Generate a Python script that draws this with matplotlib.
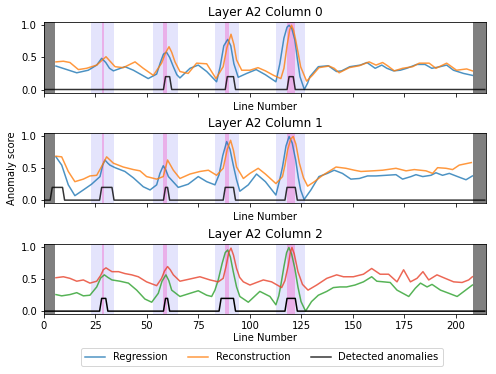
import numpy as np
import matplotlib
matplotlib.use("Agg")
import matplotlib.pyplot as plt

# ---------------- data ----------------
titles = ["Layer A2 Column 0", "Layer A2 Column 1", "Layer A2 Column 2"]

reg0_x = [5.8, 15.9, 21.5, 25.6, 28, 30, 31.8, 33.7, 39.3, 43.4, 50.6, 54.7, 56.5, 58, 59.5, 61, 62.8, 64.5, 66, 70.9, 74.9, 79,
          83.8, 85.5, 87.3, 89.2, 90.7, 92.2, 94.3, 98.4, 103, 107.5, 112.6, 114.5, 116.5, 118, 119, 120.3, 121.8, 123,
          124.3, 126.4, 128, 129.1, 133.2, 138, 142, 144.5, 148.5, 153.6, 156.8, 160.8, 164, 166.5, 169.7, 173, 176.1,
          181, 185, 188.3, 192.3, 195.5, 198.8, 203.7, 208]
reg0_y = [0.365, 0.26, 0.30, 0.38, 0.485, 0.42, 0.33, 0.29, 0.355, 0.30, 0.17, 0.24, 0.42, 0.55, 0.58, 0.50, 0.355, 0.23, 0.18, 0.33, 0.38, 0.28,
          0.12, 0.35, 0.68, 0.78, 0.68, 0.40, 0.19, 0.25, 0.31, 0.23, 0.12, 0.40, 0.80, 0.97, 1.0, 0.95, 0.77, 0.48,
          0.2, 0.0, 0.1, 0.2, 0.355, 0.37, 0.28, 0.29, 0.355, 0.38, 0.42, 0.33, 0.38, 0.33, 0.29, 0.30, 0.33,
          0.39, 0.39, 0.33, 0.355, 0.38, 0.30, 0.25, 0.22]
rec0_x = [5.8, 9.4, 12.6, 16.7, 20.7, 25.6, 30.1, 34.5, 38.5, 44.2, 48.2, 53.1, 57.1, 59, 60.7, 62, 63.6, 66, 70, 74.1, 79,
          83.5, 87, 88.8, 90.8, 92.2, 93.5, 96, 100, 103.9, 107.5, 111.5, 115, 116.5, 118, 119.3, 120.2, 121.2, 122.2,
          123.5, 124.6, 127.5, 130.3, 133.5, 138.4, 140.9, 143.3, 148.2, 153.1, 157.9, 161.2, 164.4, 166.8, 170.1,
          174.1, 179, 182.2, 187, 190.3, 195.5, 200.3, 205.2, 208]
rec0_y = [0.43, 0.44, 0.42, 0.31, 0.33, 0.38, 0.51, 0.355, 0.34, 0.43, 0.33, 0.22, 0.41, 0.57, 0.665, 0.58, 0.43, 0.28, 0.25, 0.41, 0.40,
          0.17, 0.355, 0.65, 0.86, 0.70, 0.46, 0.30, 0.30, 0.34, 0.29, 0.22, 0.17, 0.33, 0.68, 0.93, 1.0, 0.92, 0.77,
          0.55, 0.355, 0.13, 0.22, 0.34, 0.365, 0.33, 0.26, 0.34, 0.37, 0.43, 0.38, 0.42, 0.37, 0.29,
          0.33, 0.355, 0.41, 0.41, 0.33, 0.41, 0.30, 0.32, 0.29]

reg1_x = [5.8, 8.6, 11.8, 15, 19.1, 23.1, 27.2, 28.5, 29.6, 31, 32, 34.5, 39.3, 43.4, 48.2, 51.5, 54.7, 56.3, 57.9, 59.2, 60.4,
          65.2, 70, 74.9, 79, 83, 85, 86.8, 88.7, 90.3, 91.9, 93.5, 95.1, 99.2, 103.2, 107.5, 112.6, 114.3, 115.8, 117.5,
          119, 120.5, 122.2, 123.5, 124.6, 126.3, 129.6, 133.5, 137.6, 140.9, 144.9, 149, 153.1, 157.1, 161.2, 166,
          170.9, 174.1, 178.2, 180.6, 183.9, 187.9, 190.3, 193.5, 196.8, 200.8, 204.9, 208]
reg1_y = [0.68, 0.55, 0.24, 0.07, 0.16, 0.25, 0.37, 0.55, 0.63, 0.58, 0.55, 0.51, 0.45, 0.35, 0.21, 0.16, 0.24, 0.42, 0.54, 0.47, 0.37,
          0.20, 0.25, 0.37, 0.29, 0.24, 0.40, 0.70, 0.92, 0.80, 0.55, 0.32, 0.14, 0.24, 0.41, 0.29, 0.08, 0.30, 0.52, 0.85,
          1.0, 0.9, 0.63, 0.35, 0.16, 0.01, 0.16, 0.37, 0.42, 0.47, 0.42, 0.33, 0.34, 0.38, 0.38, 0.39,
          0.40, 0.33, 0.37, 0.40, 0.37, 0.39, 0.43, 0.39, 0.42, 0.37, 0.32, 0.38]
rec1_x = [5.8, 8.6, 11.8, 15, 19.1, 22.3, 25.6, 28, 30.4, 33.7, 38.5, 43.4, 46.6, 49.8, 54.7, 57.9, 60, 62.8, 66, 70.9, 75.7,
          79.8, 83.8, 87, 89, 90.6, 92, 93.5, 96.8, 100, 104, 107.5, 112.6, 115.8, 117, 118.3, 119.8, 121, 122.3, 124,
          126, 128, 131.3, 135.3, 141.8, 146.6, 150.7, 153.9, 159.6, 164.4, 170.9, 175.8, 179.8, 185.5, 188.7, 191.1,
          195.2, 198.4, 201.6, 207.5]
rec1_y = [0.69, 0.68, 0.45, 0.29, 0.33, 0.38, 0.39, 0.53, 0.68, 0.58, 0.52, 0.48, 0.46, 0.37, 0.33, 0.37, 0.63, 0.47, 0.34, 0.41, 0.45,
          0.47, 0.39, 0.50, 0.80, 0.94, 0.78, 0.52, 0.34, 0.42, 0.50, 0.41, 0.26, 0.37, 0.55, 0.79, 0.96, 1.0, 0.88, 0.58,
          0.35, 0.22, 0.29, 0.39, 0.52, 0.50, 0.47, 0.45, 0.46, 0.47, 0.50, 0.46, 0.48, 0.46, 0.42, 0.51,
          0.50, 0.48, 0.55, 0.59]

reg2_x = [5.8, 8.6, 12.6, 15.9, 19.1, 22.3, 25.6, 27.5, 29.3, 31, 33, 36.9, 41, 45, 49, 52.3, 55.5, 57.3, 59.2, 60.6, 62, 66,
          70.9, 74.9, 79, 81.4, 83, 84.6, 86.5, 88, 89.2, 90.5, 91.9, 93.5, 95.1, 99.2, 104.8, 109.7, 112.6, 114, 115,
          116.5, 117.8, 118.9, 120.2, 121.8, 123.3, 124.8, 127, 129.9, 133.2, 137.3, 140.5, 143.7, 146.9, 151, 155.1,
          159.1, 161.6, 164.9, 168.1, 171.4, 177.1, 180.3, 182.8, 186, 188.4, 192.5, 196.6, 200.6, 203.9, 208]
reg2_y = [0.26, 0.24, 0.26, 0.29, 0.24, 0.25, 0.38, 0.52, 0.57, 0.53, 0.49, 0.47, 0.44, 0.33, 0.19, 0.14, 0.28, 0.47, 0.57, 0.48, 0.33, 0.23,
          0.28, 0.32, 0.25, 0.23, 0.33, 0.49, 0.75, 0.92, 0.96, 0.85, 0.62, 0.38, 0.23, 0.14, 0.31, 0.23, 0.10, 0.24, 0.41,
          0.70, 0.92, 1.0, 0.90, 0.67, 0.38, 0.15, 0.0, 0.15, 0.25, 0.31, 0.37, 0.38, 0.38, 0.41, 0.46,
          0.54, 0.47, 0.46, 0.45, 0.33, 0.23, 0.36, 0.44, 0.38, 0.42, 0.33, 0.28, 0.23, 0.31, 0.41]
rec2_x = [5.8, 9.4, 12.6, 15.9, 19.1, 22.3, 25.6, 27.5, 28.8, 30.1, 31.5, 33, 36.2, 39.3, 42.6, 45.8, 49.8, 54.7, 57.1, 58.5, 60,
          61.3, 62.8, 66, 70.9, 75.7, 80.6, 84.6, 87, 88.5, 89.7, 90.8, 92, 93.5, 95, 96.8, 100, 103.2, 106.5, 110.5,
          115.4, 117, 118.6, 119.6, 120.4, 121.5, 123.3, 125.5, 128.2, 132.4, 137.3, 142.1, 145.4, 150.2, 155.1,
          159.1, 163.2, 167.3, 171.4, 174.6, 177.9, 181.1, 184, 186.8, 190.8, 194.8, 198.9, 203, 206.2, 208]
rec2_y = [0.525, 0.54, 0.515, 0.47, 0.49, 0.44, 0.47, 0.56, 0.65, 0.68, 0.65, 0.62, 0.62, 0.59, 0.57, 0.54, 0.46, 0.40, 0.515, 0.63, 0.70,
          0.65, 0.57, 0.47, 0.505, 0.54, 0.49, 0.46, 0.515, 0.72, 0.92, 0.99, 0.88, 0.67, 0.53, 0.46, 0.41, 0.45, 0.49, 0.46,
          0.37, 0.48, 0.72, 0.92, 1.0, 0.90, 0.62, 0.42, 0.33, 0.41, 0.515, 0.57, 0.54, 0.54, 0.58,
          0.67, 0.58, 0.58, 0.46, 0.65, 0.46, 0.515, 0.62, 0.49, 0.57, 0.515, 0.46, 0.45, 0.49, 0.54]

# detected anomaly ranges (inclusive line indices), level of the step
anom0 = [(59, 61), (89, 92), (119, 121)]
anom1 = [(4, 9), (28, 33), (59, 60), (88, 92), (118, 122)]
anom2 = [(28, 30), (59, 60), (86, 92), (118, 122)]
anom_level = 0.2
n_lines = 215

# true anomaly windows (lavender) and anomaly lines (pink)
windows = [(23, 34), (53, 65), (83, 94.5), (112.5, 126.5)]
true_anoms = [(28, 29), (58, 59.5), (88, 89.7), (118, 122)]
pad_spans = [(0, 5.5), (208.5, 214.6)]

xticks = [0, 25, 50, 75, 100, 125, 150, 175, 200]

# ---------------- plot ----------------
plt.rcParams['font.family'] = ['DejaVu Sans']
fig = plt.figure(figsize=(496 / 72, 374 / 72), dpi=72)

rects = [[0.0887, 0.7521, 0.8911, 0.189],
         [0.0887, 0.4564, 0.8911, 0.1872],
         [0.0887, 0.1596, 0.8911, 0.1872]]

series = [(reg0_x, reg0_y, rec0_x, rec0_y, anom0),
          (reg1_x, reg1_y, rec1_x, rec1_y, anom1),
          (reg2_x, reg2_y, rec2_x, rec2_y, anom2)]

colors = [("#1f77b4", "#ff7f0e"), ("#1f77b4", "#ff7f0e"), ("#2ca02c", "#e8412a")]

axes = []
for i, (r, (rx, ry, cx, cy, anom)) in enumerate(zip(rects, series)):
    ax = fig.add_axes(r)
    axes.append(ax)
    for a, b in windows:
        ax.axvspan(a, b, color="#e4e4fc", lw=0, zorder=0)
    for a, b in true_anoms:
        ax.axvspan(a, b, color="#e9b0e9", lw=0, zorder=0.5)
    for a, b in pad_spans:
        ax.axvspan(a, b, color="#808080", lw=0, zorder=1)
    det = np.zeros(n_lines)
    for a, b in anom:
        det[a:b + 1] = anom_level
    ax.plot(rx, ry, color=colors[i][0], alpha=0.8, lw=1.5, zorder=3, label="Regression")
    ax.plot(cx, cy, color=colors[i][1], alpha=0.8, lw=1.5, zorder=3, label="Reconstruction")
    ax.plot(np.arange(n_lines), det, color="black", alpha=0.8 if i < 2 else 1.0, lw=1.5, zorder=4,
            label="Detected anomalies")
    ax.set_xlim(0, 214.6)
    ax.set_ylim(-0.05, 1.05)
    ax.set_xticks(xticks)
    ax.set_yticks([0.0, 0.5, 1.0])
    ax.set_title(titles[i], fontsize=12)
    ax.set_xlabel("Line Number", fontsize=10, labelpad=2)
    if i < 2:
        ax.set_xticklabels([])

axes[1].set_ylabel("Anomaly score", fontsize=10)

handles, labels = axes[0].get_legend_handles_labels()
fig.legend(handles, labels, loc="center", bbox_to_anchor=(262 / 496, 1 - 357 / 374), ncol=3, fontsize=10,
           frameon=True, handlelength=2, columnspacing=2.0)

fig.savefig("out.png", dpi=72)
